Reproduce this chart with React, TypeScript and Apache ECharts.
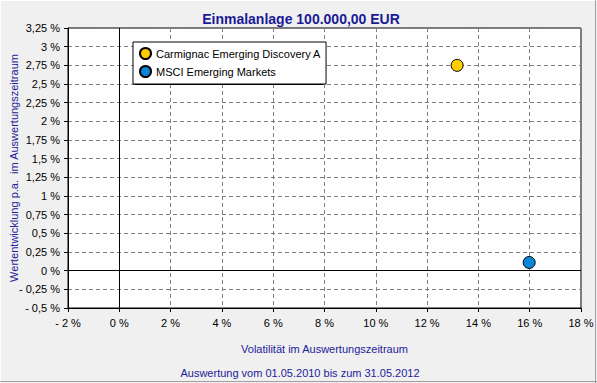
import React, { useEffect, useRef } from "react";
import * as echarts from "echarts";

const TITLE = "Einmalanlage 100.000,00 EUR";
const SUBTITLE = "Auswertung vom 01.05.2010 bis zum 31.05.2012";
const X_NAME = "Volatilität im Auswertungszeitraum";
const Y_NAME = "Wertentwicklung p.a.  im Auswertungszeitraum";

const seriesNames = ["Carmignac Emerging Discovery A", "MSCI Emerging Markets"];
const volatility = [13.17, 15.98];
const returns = [2.75, 0.11];
const colors = ["#FFCC00", "#0A86D8"];

const X_MIN = -2, X_MAX = 18, X_STEP = 2;
const Y_MIN = -0.5, Y_MAX = 3.25, Y_STEP = 0.25;

const FONT = "Liberation Sans, Arial, sans-serif";

function fmtPct(v: number): string {
  const s = String(Math.abs(v)).replace(".", ",");
  return (v < 0 ? "- " : "") + s + " %";
}

export default function App() {
  const ref = useRef<HTMLDivElement>(null);
  useEffect(() => {
    if (!ref.current) return;
    const chart = echarts.init(ref.current, null, { renderer: "svg" });
    const gridLine = { show: true, lineStyle: { color: "#808080", type: [4, 3] as any, width: 1 } };
    chart.setOption({
      animation: false,
      backgroundColor: "#F0F0F0",
      textStyle: { fontFamily: FONT },
      title: [
        {
          text: TITLE,
          left: 296,
          top: 7,
          textAlign: "center",
          textStyle: { fontSize: 14, fontWeight: "bold", color: "#1A1A96", fontFamily: FONT },
        },
        {
          text: SUBTITLE,
          left: 295,
          top: 362,
          textAlign: "center",
          textStyle: { fontSize: 11, fontWeight: "normal", color: "#22229A", fontFamily: FONT },
        },
      ],
      graphic: [
        { type: "line", shape: { x1: 0, y1: 0.5, x2: 597, y2: 0.5 }, style: { stroke: "#FFFFFF", lineWidth: 1 }, z: 10 },
        { type: "line", shape: { x1: 0.5, y1: 0, x2: 0.5, y2: 383 }, style: { stroke: "#FFFFFF", lineWidth: 1 }, z: 10 },
        { type: "line", shape: { x1: 0, y1: 381.5, x2: 597, y2: 381.5 }, style: { stroke: "#A0A0A0", lineWidth: 1 }, z: 10 },
        { type: "line", shape: { x1: 595.5, y1: 0, x2: 595.5, y2: 383 }, style: { stroke: "#A0A0A0", lineWidth: 1 }, z: 10 },
        { type: "rect", shape: { x: 135, y: 44, width: 188, height: 41 }, style: { fill: "#000" }, z: 3 },
      ],
      legend: {
        left: 133,
        top: 42,
        orient: "vertical",
        itemWidth: 11,
        itemHeight: 11,
        itemGap: 5,
        padding: [5, 5, 6, 6],
        backgroundColor: "#FFFFFF",
        borderColor: "#000000",
        borderWidth: 1,
        z: 5,
        icon: "circle",
        textStyle: { fontSize: 11, color: "#000", lineHeight: 12, fontFamily: FONT },
        data: seriesNames,
      },
      grid: {
        left: 68,
        top: 28,
        width: 513,
        height: 280,
        show: true,
        backgroundColor: "#FFFFFF",
        borderColor: "#000000",
        borderWidth: 1,
        containLabel: false,
        outerBoundsMode: "none",
      },
      xAxis: {
        type: "value",
        min: X_MIN,
        max: X_MAX,
        interval: X_STEP,
        name: X_NAME,
        nameLocation: "middle",
        nameGap: 35,
        nameMoveOverlap: false,
        nameTextStyle: { fontSize: 11, color: "#22229A", fontFamily: FONT },
        axisLine: { show: true, onZero: false, lineStyle: { color: "#000" } },
        axisTick: { show: true, length: 4, lineStyle: { color: "#000" } },
        axisLabel: { color: "#000", fontSize: 11, margin: 9, formatter: fmtPct, fontFamily: FONT },
        splitLine: gridLine,
      },
      yAxis: {
        type: "value",
        min: Y_MIN,
        max: Y_MAX,
        interval: Y_STEP,
        name: Y_NAME,
        nameLocation: "middle",
        nameGap: 49,
        nameMoveOverlap: false,
        nameRotate: 90,
        nameTextStyle: { fontSize: 11, color: "#22229A", fontFamily: FONT },
        axisLine: { show: true, onZero: false, lineStyle: { color: "#000" } },
        axisTick: { show: true, length: 4, lineStyle: { color: "#000" } },
        axisLabel: { color: "#000", fontSize: 11, margin: 8, formatter: fmtPct, fontFamily: FONT },
        splitLine: gridLine,
      },
      series: seriesNames.map((name, i) => ({
        name,
        type: "scatter",
        symbol: "circle",
        symbolSize: 12,
        itemStyle: { color: colors[i], borderColor: "#000", borderWidth: 1, opacity: 1 },
        data: [[volatility[i], returns[i]]],
        z: 4,
        markLine:
          i === 0
            ? {
                silent: true,
                symbol: "none",
                label: { show: false },
                lineStyle: { color: "#000", type: "solid", width: 1 },
                data: [{ xAxis: 0 }, { yAxis: 0 }],
              }
            : undefined,
      })),
    });
    return () => chart.dispose();
  }, []);
  return <div ref={ref} style={{ position: "absolute", left: 0, top: 0, width: 597, height: 383 }} />;
}
